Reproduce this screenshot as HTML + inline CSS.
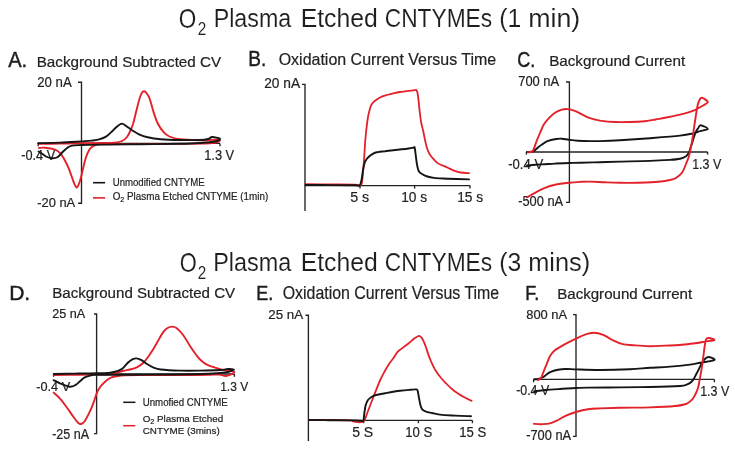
<!DOCTYPE html>
<html><head><meta charset="utf-8"><title>O2 Plasma Etched CNTYMEs</title>
<style>html,body{margin:0;padding:0;background:#fff;width:735px;height:450px;overflow:hidden}
svg{display:block;font-family:"Liberation Sans",sans-serif;will-change:transform;filter:blur(0.35px)}</style></head>
<body>
<svg width="735" height="450" viewBox="0 0 735 450" font-family="Liberation Sans, sans-serif">
<text x="178.7" y="27.7" font-size="26.89" fill="#1e1e1e" textLength="17.5" lengthAdjust="spacingAndGlyphs" stroke="#fff" stroke-width="0.1">O</text>
<text x="197.7" y="34.6" font-size="17.48" fill="#1e1e1e" textLength="8.5" lengthAdjust="spacingAndGlyphs" stroke="#fff" stroke-width="0.1">2</text>
<text x="213.7" y="26.6" font-size="25.15" fill="#1e1e1e" textLength="77.5" lengthAdjust="spacingAndGlyphs" stroke="#fff" stroke-width="0.1">Plasma</text>
<text x="300.7" y="26.6" font-size="25.73" fill="#1e1e1e" textLength="77.0" lengthAdjust="spacingAndGlyphs" stroke="#fff" stroke-width="0.1">Etched</text>
<text x="384.7" y="26.6" font-size="25.73" fill="#1e1e1e" textLength="107.5" lengthAdjust="spacingAndGlyphs" stroke="#fff" stroke-width="0.1">CNTYMEs</text>
<text x="499.2" y="26.6" font-size="25.73" fill="#1e1e1e" textLength="22.0" lengthAdjust="spacingAndGlyphs" stroke="#fff" stroke-width="0.1">(1</text>
<text x="528.2" y="26.6" font-size="25.73" fill="#1e1e1e" textLength="52.0" lengthAdjust="spacingAndGlyphs" stroke="#fff" stroke-width="0.1">min)</text>
<text x="179.7" y="272.1" font-size="26.89" fill="#1e1e1e" textLength="17.0" lengthAdjust="spacingAndGlyphs" stroke="#fff" stroke-width="0.1">O</text>
<text x="197.7" y="279.0" font-size="17.48" fill="#1e1e1e" textLength="8.5" lengthAdjust="spacingAndGlyphs" stroke="#fff" stroke-width="0.1">2</text>
<text x="213.2" y="271.0" font-size="25.00" fill="#1e1e1e" textLength="78.0" lengthAdjust="spacingAndGlyphs" stroke="#fff" stroke-width="0.1">Plasma</text>
<text x="300.7" y="271.0" font-size="25.29" fill="#1e1e1e" textLength="77.0" lengthAdjust="spacingAndGlyphs" stroke="#fff" stroke-width="0.1">Etched</text>
<text x="384.7" y="271.0" font-size="25.29" fill="#1e1e1e" textLength="107.5" lengthAdjust="spacingAndGlyphs" stroke="#fff" stroke-width="0.1">CNTYMEs</text>
<text x="499.2" y="271.0" font-size="25.29" fill="#1e1e1e" textLength="22.0" lengthAdjust="spacingAndGlyphs" stroke="#fff" stroke-width="0.1">(3</text>
<text x="528.2" y="271.0" font-size="25.29" fill="#1e1e1e" textLength="62.0" lengthAdjust="spacingAndGlyphs" stroke="#fff" stroke-width="0.1">mins)</text>
<text x="8.2" y="66.7" font-size="22.67" fill="#1c1c1c" textLength="19.0" lengthAdjust="spacingAndGlyphs" stroke="#1c1c1c" stroke-width="0.45">A.</text>
<text x="248.2" y="66.3" font-size="22.09" fill="#1c1c1c" textLength="18.0" lengthAdjust="spacingAndGlyphs" stroke="#1c1c1c" stroke-width="0.45">B.</text>
<text x="517.2" y="66.7" font-size="21.22" fill="#1c1c1c" textLength="18.0" lengthAdjust="spacingAndGlyphs" stroke="#1c1c1c" stroke-width="0.45">C.</text>
<text x="9.2" y="300.3" font-size="20.64" fill="#1c1c1c" textLength="21.0" lengthAdjust="spacingAndGlyphs" stroke="#1c1c1c" stroke-width="0.45">D.</text>
<text x="256.2" y="300.1" font-size="20.35" fill="#1c1c1c" textLength="17.0" lengthAdjust="spacingAndGlyphs" stroke="#1c1c1c" stroke-width="0.45">E.</text>
<text x="525.2" y="300.1" font-size="20.35" fill="#1c1c1c" textLength="14.0" lengthAdjust="spacingAndGlyphs" stroke="#1c1c1c" stroke-width="0.45">F.</text>
<text x="36.7" y="66.6" font-size="15.41" fill="#222" textLength="184.5" lengthAdjust="spacingAndGlyphs" stroke="#222" stroke-width="0.20">Background Subtracted CV</text>
<text x="278.7" y="65.2" font-size="16.57" fill="#222" textLength="217.5" lengthAdjust="spacingAndGlyphs" stroke="#222" stroke-width="0.20">Oxidation Current Versus Time</text>
<text x="549.2" y="66.1" font-size="14.97" fill="#222" textLength="136.0" lengthAdjust="spacingAndGlyphs" stroke="#222" stroke-width="0.20">Background Current</text>
<text x="52.2" y="298.3" font-size="14.68" fill="#222" textLength="183.0" lengthAdjust="spacingAndGlyphs" stroke="#222" stroke-width="0.20">Background Subtracted CV</text>
<text x="282.7" y="298.5" font-size="17.44" fill="#222" textLength="216.5" lengthAdjust="spacingAndGlyphs" stroke="#222" stroke-width="0.20">Oxidation Current Versus Time</text>
<text x="557.2" y="298.7" font-size="14.39" fill="#222" textLength="135.0" lengthAdjust="spacingAndGlyphs" stroke="#222" stroke-width="0.20">Background Current</text>
<text x="37.2" y="86.7" font-size="14.68" fill="#222" textLength="34.5" lengthAdjust="spacingAndGlyphs" stroke="#222" stroke-width="0.20">20 nA</text>
<text x="37.2" y="207.1" font-size="13.66" fill="#222" textLength="38.0" lengthAdjust="spacingAndGlyphs" stroke="#222" stroke-width="0.20">-20 nA</text>
<text x="21.2" y="159.7" font-size="14.24" fill="#222" textLength="34.0" lengthAdjust="spacingAndGlyphs" stroke="#222" stroke-width="0.20">-0.4 V</text>
<text x="204.2" y="159.7" font-size="14.24" fill="#222" textLength="30.0" lengthAdjust="spacingAndGlyphs" stroke="#222" stroke-width="0.20">1.3 V</text>
<text x="264.2" y="88.1" font-size="14.53" fill="#222" textLength="36.0" lengthAdjust="spacingAndGlyphs" stroke="#222" stroke-width="0.20">20 nA</text>
<text x="350.2" y="202.1" font-size="13.95" fill="#222" textLength="19.0" lengthAdjust="spacingAndGlyphs" stroke="#222" stroke-width="0.20">5 s</text>
<text x="401.2" y="202.1" font-size="13.95" fill="#222" textLength="26.0" lengthAdjust="spacingAndGlyphs" stroke="#222" stroke-width="0.20">10 s</text>
<text x="457.2" y="202.1" font-size="13.95" fill="#222" textLength="26.0" lengthAdjust="spacingAndGlyphs" stroke="#222" stroke-width="0.20">15 s</text>
<text x="518.2" y="85.9" font-size="14.24" fill="#222" textLength="41.0" lengthAdjust="spacingAndGlyphs" stroke="#222" stroke-width="0.20">700 nA</text>
<text x="518.2" y="206.3" font-size="14.24" fill="#222" textLength="45.0" lengthAdjust="spacingAndGlyphs" stroke="#222" stroke-width="0.20">-500 nA</text>
<text x="508.2" y="168.5" font-size="13.95" fill="#222" textLength="35.0" lengthAdjust="spacingAndGlyphs" stroke="#222" stroke-width="0.20">-0.4 V</text>
<text x="692.2" y="168.5" font-size="13.95" fill="#222" textLength="29.0" lengthAdjust="spacingAndGlyphs" stroke="#222" stroke-width="0.20">1.3 V</text>
<text x="52.2" y="317.9" font-size="13.66" fill="#222" textLength="33.0" lengthAdjust="spacingAndGlyphs" stroke="#222" stroke-width="0.20">25 nA</text>
<text x="52.2" y="438.9" font-size="14.24" fill="#222" textLength="37.0" lengthAdjust="spacingAndGlyphs" stroke="#222" stroke-width="0.20">-25 nA</text>
<text x="36.2" y="390.9" font-size="13.66" fill="#222" textLength="34.0" lengthAdjust="spacingAndGlyphs" stroke="#222" stroke-width="0.20">-0.4 V</text>
<text x="220.2" y="390.7" font-size="13.66" fill="#222" textLength="28.0" lengthAdjust="spacingAndGlyphs" stroke="#222" stroke-width="0.20">1.3 V</text>
<text x="268.2" y="319.1" font-size="13.66" fill="#222" textLength="35.0" lengthAdjust="spacingAndGlyphs" stroke="#222" stroke-width="0.20">25 nA</text>
<text x="352.2" y="437.3" font-size="14.24" fill="#222" textLength="21.0" lengthAdjust="spacingAndGlyphs" stroke="#222" stroke-width="0.20">5 S</text>
<text x="405.2" y="437.3" font-size="14.24" fill="#222" textLength="27.0" lengthAdjust="spacingAndGlyphs" stroke="#222" stroke-width="0.20">10 S</text>
<text x="459.2" y="437.3" font-size="14.24" fill="#222" textLength="27.0" lengthAdjust="spacingAndGlyphs" stroke="#222" stroke-width="0.20">15 S</text>
<text x="526.2" y="319.1" font-size="13.66" fill="#222" textLength="41.0" lengthAdjust="spacingAndGlyphs" stroke="#222" stroke-width="0.20">800 nA</text>
<text x="526.2" y="439.9" font-size="14.24" fill="#222" textLength="45.0" lengthAdjust="spacingAndGlyphs" stroke="#222" stroke-width="0.20">-700 nA</text>
<text x="516.2" y="395.1" font-size="13.95" fill="#222" textLength="33.0" lengthAdjust="spacingAndGlyphs" stroke="#222" stroke-width="0.20">-0.4 V</text>
<text x="700.2" y="395.7" font-size="13.95" fill="#222" textLength="29.0" lengthAdjust="spacingAndGlyphs" stroke="#222" stroke-width="0.20">1.3 V</text>
<text x="112.7" y="186.1" font-size="10.90" fill="#222" textLength="92.0" lengthAdjust="spacingAndGlyphs" stroke="#222" stroke-width="0.20">Unmodified CNTYME</text>
<text x="112.7" y="200.0" font-size="10.90" fill="#222" textLength="155.5" lengthAdjust="spacingAndGlyphs" stroke="#222" stroke-width="0.20">O<tspan font-size="7.85" dy="2.2">2</tspan><tspan dy="-2.2"> Plasma Etched CNTYME (1min)</tspan></text>
<text x="142.7" y="405.8" font-size="10.47" fill="#222" textLength="85.0" lengthAdjust="spacingAndGlyphs" stroke="#222" stroke-width="0.20">Unmofied CNTYME</text>
<text x="142.7" y="421.6" font-size="9.74" fill="#222" textLength="80.5" lengthAdjust="spacingAndGlyphs" stroke="#222" stroke-width="0.20">O<tspan font-size="7.01" dy="2.2">2</tspan><tspan dy="-2.2"> Plasma Etched</tspan></text>
<text x="142.7" y="433.9" font-size="9.74" fill="#222" textLength="77.0" lengthAdjust="spacingAndGlyphs" stroke="#222" stroke-width="0.20">CNTYME (3mins)</text>
<polyline points="78.0,82.2 81.5,82.2 81.5,203.2 78.0,203.2" fill="none" stroke="#222" stroke-width="1.35" stroke-linejoin="miter"/>
<line x1="38.2" y1="143.4" x2="220.0" y2="143.4" stroke="#222" stroke-width="1.35"/>
<line x1="38.2" y1="143.4" x2="38.2" y2="146.2" stroke="#222" stroke-width="1.35"/>
<line x1="220.0" y1="143.4" x2="220.0" y2="146.2" stroke="#222" stroke-width="1.35"/>
<path d="M38.2,143.8 C41.8,143.8 52.8,143.7 60.0,143.6 C67.2,143.5 74.8,143.3 81.5,143.2 C88.2,143.1 94.4,143.1 100.0,143.0 C105.6,142.9 111.3,142.9 115.0,142.6 C118.7,142.3 120.0,141.9 122.0,141.0 C124.0,140.1 125.6,138.8 127.0,137.0 C128.4,135.2 129.5,132.8 130.5,130.5 C131.5,128.2 132.1,127.1 133.2,123.5 C134.2,119.9 135.6,113.6 136.8,109.0 C138.0,104.4 139.2,99.0 140.4,96.0 C141.6,93.0 142.7,91.0 144.1,91.2 C145.5,91.4 147.5,94.0 149.1,97.4 C150.7,100.9 152.1,107.6 153.5,111.9 C154.9,116.2 156.1,120.1 157.8,123.5 C159.5,126.9 161.7,130.0 163.6,132.2 C165.5,134.4 166.7,135.3 169.4,136.5 C172.1,137.7 174.9,138.7 180.0,139.3 C185.1,139.9 195.0,140.1 200.0,140.2 C205.0,140.3 207.3,140.1 210.0,140.0 C212.7,139.9 214.3,139.8 216.0,139.8 C217.7,139.9 220.0,139.9 220.0,140.3 C220.0,140.8 219.3,141.9 216.0,142.5 C212.7,143.1 211.0,143.3 200.0,143.6 C189.0,143.8 166.7,143.9 150.0,144.0 C133.3,144.1 108.9,144.2 100.0,144.4 C91.1,144.6 97.9,144.6 96.7,144.9 C95.5,145.2 94.2,145.3 93.0,146.1 C91.8,146.9 90.5,147.8 89.3,149.8 C88.1,151.8 86.8,154.8 85.7,158.3 C84.6,161.8 83.5,166.9 82.6,170.6 C81.7,174.3 81.1,177.5 80.2,180.3 C79.3,183.1 78.0,186.6 77.1,187.3 C76.2,188.0 75.5,186.2 74.7,184.6 C73.9,183.0 73.2,180.7 72.2,177.9 C71.2,175.2 70.0,171.4 68.6,168.1 C67.2,164.8 65.1,160.8 63.7,158.3 C62.3,155.8 61.5,154.4 60.0,153.0 C58.5,151.6 57.5,150.5 55.0,149.6 C52.5,148.7 47.7,148.0 45.0,147.7 C42.3,147.4 40.0,147.9 39.0,148.0" fill="none" stroke="#e3212a" stroke-width="1.90" stroke-linejoin="round" stroke-linecap="round"/>
<path d="M38.2,143.2 C41.8,143.1 52.8,142.9 60.0,142.6 C67.2,142.3 76.2,141.7 81.5,141.4 C86.8,141.1 88.9,141.0 92.0,140.6 C95.1,140.2 97.7,139.9 100.0,139.2 C102.3,138.5 104.2,137.7 106.0,136.6 C107.8,135.5 109.3,133.9 111.0,132.4 C112.7,130.9 114.2,128.9 116.0,127.4 C117.8,125.9 120.0,123.8 121.7,123.6 C123.5,123.4 124.8,125.1 126.5,126.2 C128.2,127.3 129.6,128.7 131.7,130.0 C133.8,131.3 136.3,133.1 139.0,134.3 C141.7,135.5 144.1,136.4 147.7,137.2 C151.3,138.0 155.3,138.7 160.7,139.2 C166.1,139.7 173.4,139.9 180.0,140.0 C186.6,140.1 195.3,140.2 200.0,140.0 C204.7,139.8 206.0,139.5 208.0,139.0 C210.0,138.5 210.5,137.2 212.0,137.0 C213.5,136.8 215.7,137.5 217.0,137.8 C218.3,138.1 220.3,138.4 220.0,139.0 C219.7,139.6 218.3,140.8 215.0,141.5 C211.7,142.2 205.8,142.6 200.0,143.0 C194.2,143.4 190.0,143.6 180.0,143.8 C170.0,144.0 153.3,144.2 140.0,144.3 C126.7,144.4 109.8,144.5 100.0,144.6 C90.2,144.7 86.2,144.8 81.5,145.0 C76.8,145.2 74.3,145.2 72.0,145.6 C69.7,146.0 69.1,146.6 67.5,147.7 C65.9,148.8 64.2,150.4 62.6,152.0 C61.0,153.6 59.6,155.9 57.8,157.0 C56.0,158.1 54.0,158.4 52.0,158.3 C50.0,158.2 47.8,157.4 46.0,156.5 C44.2,155.6 42.2,153.8 41.0,153.0 C39.8,152.2 38.9,151.8 38.5,151.5" fill="none" stroke="#151515" stroke-width="1.90" stroke-linejoin="round" stroke-linecap="round"/>
<line x1="93.0" y1="182.7" x2="105.1" y2="182.7" stroke="#151515" stroke-width="1.60"/>
<line x1="93.0" y1="197.9" x2="105.1" y2="197.9" stroke="#e3212a" stroke-width="1.60"/>
<polyline points="302.0,84.3 305.0,84.3 305.0,211.0" fill="none" stroke="#222" stroke-width="1.35" stroke-linejoin="miter"/>
<line x1="305.0" y1="185.6" x2="470.0" y2="185.6" stroke="#222" stroke-width="1.35"/>
<line x1="360.0" y1="185.6" x2="360.0" y2="188.6" stroke="#222" stroke-width="1.35"/>
<line x1="414.6" y1="185.6" x2="414.6" y2="188.6" stroke="#222" stroke-width="1.35"/>
<line x1="470.0" y1="185.6" x2="470.0" y2="188.6" stroke="#222" stroke-width="1.35"/>
<path d="M305.6,184.2 C309.7,184.2 321.8,184.3 330.0,184.4 C338.2,184.5 349.8,184.5 355.0,184.6 C360.2,184.7 359.8,186.1 361.0,185.0 C362.2,183.9 362.0,182.2 362.5,178.0 C363.0,173.8 363.5,166.3 364.0,160.0 C364.5,153.7 364.9,145.6 365.3,140.0 C365.8,134.4 366.2,130.5 366.7,126.7 C367.1,122.9 367.6,119.5 368.0,117.0 C368.4,114.5 368.8,113.3 369.2,111.7 C369.6,110.1 369.9,108.8 370.3,107.5 C370.7,106.2 370.9,105.3 371.7,104.2 C372.5,103.1 373.6,101.9 375.0,100.8 C376.4,99.7 378.1,98.5 380.0,97.5 C381.9,96.5 384.5,95.7 386.7,95.0 C388.9,94.3 391.1,93.8 393.3,93.3 C395.5,92.8 397.8,92.3 400.0,92.0 C402.2,91.7 404.5,91.5 406.7,91.2 C408.9,90.9 411.7,90.6 413.3,90.4 C414.9,90.2 415.7,89.5 416.4,90.0 C417.1,90.5 417.2,91.5 417.6,93.5 C418.0,95.5 418.4,98.9 418.7,101.8 C419.0,104.7 419.2,107.3 419.6,110.7 C420.0,114.1 420.5,118.5 421.1,122.0 C421.7,125.5 422.6,128.3 423.3,131.5 C424.0,134.7 424.6,138.4 425.3,141.3 C426.0,144.2 426.5,146.8 427.3,149.0 C428.1,151.2 429.1,153.2 430.0,154.7 C430.9,156.2 431.6,156.9 432.7,158.2 C433.8,159.5 435.4,161.3 436.7,162.4 C438.0,163.5 438.9,164.0 440.7,164.8 C442.5,165.7 445.1,166.5 447.3,167.5 C449.5,168.5 451.8,169.8 454.0,170.6 C456.2,171.4 458.2,172.1 460.7,172.5 C463.2,172.9 467.6,173.1 469.0,173.2" fill="none" stroke="#e3212a" stroke-width="1.80" stroke-linejoin="round" stroke-linecap="round"/>
<path d="M305.6,185.0 C309.7,185.0 321.8,185.1 330.0,185.1 C338.2,185.1 350.1,185.1 355.0,185.2 C359.9,185.3 358.4,186.5 359.5,185.6 C360.6,184.7 360.9,182.6 361.5,180.0 C362.1,177.4 362.5,172.8 363.0,170.0 C363.5,167.2 364.0,164.8 364.6,163.0 C365.2,161.2 365.8,160.2 366.7,159.0 C367.6,157.8 368.9,156.7 370.0,155.8 C371.1,154.9 372.2,154.2 373.3,153.6 C374.4,153.0 374.8,152.7 376.7,152.3 C378.6,151.9 382.2,151.5 385.0,151.2 C387.8,150.8 390.5,150.5 393.3,150.2 C396.1,149.9 398.9,149.6 401.7,149.3 C404.5,149.0 408.0,148.5 410.0,148.2 C412.0,147.9 412.8,147.7 413.6,147.7 C414.4,147.7 414.3,145.7 414.8,148.2 C415.3,150.7 416.1,158.9 416.7,162.7 C417.3,166.5 417.8,169.1 418.7,171.0 C419.6,172.9 420.6,173.1 422.0,174.0 C423.4,174.9 425.3,175.8 427.3,176.5 C429.3,177.2 430.7,177.5 434.0,177.9 C437.3,178.3 441.5,178.4 447.3,178.7 C453.1,178.9 465.4,179.3 469.0,179.4" fill="none" stroke="#151515" stroke-width="1.90" stroke-linejoin="round" stroke-linecap="round"/>
<polyline points="566.0,82.0 569.4,82.0 569.4,202.4 566.0,202.4" fill="none" stroke="#222" stroke-width="1.35" stroke-linejoin="miter"/>
<line x1="526.4" y1="152.0" x2="707.6" y2="152.0" stroke="#222" stroke-width="1.35"/>
<line x1="526.4" y1="152.0" x2="526.4" y2="154.6" stroke="#222" stroke-width="1.35"/>
<line x1="707.6" y1="152.0" x2="707.6" y2="154.6" stroke="#222" stroke-width="1.35"/>
<path d="M527.0,152.0 C527.8,151.9 530.8,151.8 532.0,151.6 C533.2,151.4 533.4,151.3 534.4,150.6 C535.4,149.9 536.8,148.5 538.0,147.5 C539.2,146.5 540.0,145.9 541.6,144.8 C543.2,143.8 545.0,142.2 547.4,141.2 C549.8,140.2 553.7,139.4 556.1,139.0 C558.5,138.6 559.6,138.6 561.8,138.7 C564.0,138.8 566.5,139.5 569.1,139.8 C571.8,140.2 574.2,140.6 577.7,140.8 C581.2,141.0 586.3,141.1 590.0,141.1 C593.7,141.1 595.0,141.2 600.0,141.1 C605.0,141.0 611.7,140.8 620.0,140.3 C628.3,139.8 640.0,139.0 650.0,138.2 C660.0,137.4 672.8,136.4 680.0,135.6 C687.2,134.8 689.7,134.1 693.0,133.4 C696.3,132.7 697.5,131.9 700.0,131.2 C702.5,130.4 707.7,129.9 707.8,128.9 C707.9,127.9 702.2,125.4 700.6,125.3 C699.0,125.2 698.8,127.5 698.0,128.5 C697.2,129.6 696.8,129.9 696.0,131.6 C695.2,133.3 694.3,136.0 693.5,138.5 C692.7,141.0 691.8,144.2 691.0,146.5 C690.2,148.8 689.8,150.9 689.0,152.5 C688.2,154.1 687.5,155.1 686.0,156.2 C684.5,157.2 682.7,158.2 680.0,158.8 C677.3,159.4 675.0,159.6 670.0,159.9 C665.0,160.2 658.3,160.6 650.0,160.9 C641.7,161.2 628.3,161.4 620.0,161.6 C611.7,161.8 606.7,162.0 600.0,162.2 C593.3,162.4 585.2,162.7 580.0,162.8 C574.8,162.9 573.2,162.9 569.0,163.0 C564.8,163.1 559.0,163.4 555.0,163.6 C551.0,163.8 548.3,164.0 545.0,164.2 C541.7,164.4 538.0,164.6 535.0,164.8 C532.0,165.0 528.3,165.3 527.0,165.4" fill="none" stroke="#151515" stroke-width="1.90" stroke-linejoin="round" stroke-linecap="round"/>
<path d="M528.0,152.2 C528.7,152.1 531.2,152.4 532.3,151.5 C533.4,150.6 533.8,148.7 534.5,147.0 C535.2,145.3 535.6,143.6 536.6,141.2 C537.6,138.8 539.0,135.3 540.2,132.5 C541.4,129.7 542.3,127.0 543.8,124.6 C545.2,122.2 547.1,120.0 548.9,118.1 C550.7,116.2 552.5,114.4 554.6,113.0 C556.8,111.6 559.6,110.4 561.8,109.7 C564.0,109.0 565.4,108.9 567.6,109.1 C569.8,109.3 572.1,109.9 574.8,110.9 C577.4,111.9 581.0,114.0 583.5,115.2 C586.0,116.4 587.2,117.2 590.0,118.1 C592.8,119.0 595.8,119.9 600.0,120.6 C604.2,121.2 610.0,121.8 615.0,122.0 C620.0,122.2 625.0,122.1 630.0,122.0 C635.0,121.9 640.7,121.6 645.0,121.2 C649.3,120.8 652.3,120.1 655.6,119.5 C658.9,118.9 662.0,118.4 665.0,117.8 C668.0,117.2 670.9,116.6 673.4,116.1 C675.9,115.6 677.6,115.2 680.0,114.6 C682.4,114.0 685.1,113.3 687.6,112.6 C690.1,111.9 692.6,111.1 694.7,110.2 C696.8,109.3 698.3,108.2 700.0,107.2 C701.7,106.2 703.7,105.3 705.0,104.4 C706.3,103.5 708.3,102.8 707.8,101.7 C707.2,100.6 703.2,97.8 701.7,97.8 C700.2,97.8 699.4,100.2 698.6,102.0 C697.8,103.8 697.5,105.8 697.0,108.5 C696.5,111.2 696.0,114.8 695.5,118.0 C695.0,121.2 694.5,124.7 694.0,128.0 C693.5,131.3 693.1,134.8 692.6,138.0 C692.1,141.2 691.6,144.0 691.0,147.0 C690.4,150.0 689.8,153.2 689.0,156.0 C688.2,158.8 687.1,161.3 686.0,164.0 C684.9,166.7 683.6,170.2 682.3,172.3 C681.0,174.4 679.5,175.4 678.0,176.6 C676.5,177.8 675.6,178.5 673.4,179.2 C671.2,179.9 668.0,180.5 665.0,181.0 C662.0,181.5 660.1,181.7 655.6,182.0 C651.1,182.3 643.7,182.7 637.8,182.8 C631.9,182.9 625.5,182.9 620.0,182.8 C614.5,182.7 610.0,182.5 605.0,182.3 C600.0,182.1 594.2,181.7 590.0,181.6 C585.8,181.5 583.5,181.7 580.0,181.9 C576.5,182.1 573.2,182.3 569.0,182.8 C564.8,183.3 559.0,184.0 555.0,184.8 C551.0,185.7 548.3,186.6 545.0,187.9 C541.7,189.2 538.0,191.2 535.0,192.8 C532.0,194.4 528.3,196.6 527.0,197.3" fill="none" stroke="#e3212a" stroke-width="1.90" stroke-linejoin="round" stroke-linecap="round"/>
<polyline points="94.0,314.0 96.6,314.0 96.6,433.6 94.0,433.6" fill="none" stroke="#222" stroke-width="1.35" stroke-linejoin="miter"/>
<line x1="53.6" y1="374.0" x2="234.4" y2="374.0" stroke="#222" stroke-width="1.35"/>
<line x1="53.6" y1="374.0" x2="53.6" y2="376.8" stroke="#222" stroke-width="1.35"/>
<line x1="234.4" y1="374.0" x2="234.4" y2="376.8" stroke="#222" stroke-width="1.35"/>
<path d="M54.0,375.0 C58.3,375.0 72.8,374.9 80.0,374.8 C87.2,374.7 92.0,374.7 97.0,374.6 C102.0,374.5 105.7,374.8 110.0,374.2 C114.3,373.6 119.3,371.8 122.6,371.0 C125.9,370.2 127.5,370.1 130.0,369.5 C132.4,368.9 135.1,368.2 137.3,367.1 C139.5,366.0 141.6,364.5 143.4,362.8 C145.2,361.1 146.7,358.9 148.3,356.7 C149.9,354.4 151.6,351.9 153.2,349.3 C154.8,346.7 156.6,343.5 158.1,340.8 C159.6,338.1 161.0,335.4 162.4,333.4 C163.8,331.4 165.2,329.7 166.7,328.6 C168.2,327.5 170.0,326.7 171.6,326.6 C173.2,326.5 174.6,326.5 176.5,327.9 C178.4,329.3 181.0,332.1 183.3,335.2 C185.6,338.3 188.1,343.1 190.5,346.7 C192.9,350.3 195.5,354.1 197.7,356.8 C199.9,359.5 201.6,361.1 203.5,362.6 C205.4,364.1 207.4,364.8 209.3,365.6 C211.2,366.4 213.2,367.0 215.0,367.6 C216.8,368.2 218.2,368.7 220.0,369.2 C221.8,369.7 224.3,370.1 226.0,370.4 C227.7,370.7 228.6,370.8 230.0,371.0 C231.4,371.2 234.3,371.2 234.4,371.8 C234.5,372.4 232.0,373.9 230.5,374.6 C229.0,375.3 227.5,376.0 225.6,376.0 C223.7,376.0 221.6,374.8 219.0,374.6 C216.4,374.4 213.2,374.7 210.0,374.8 C206.8,374.9 210.0,374.9 200.0,375.0 C190.0,375.1 162.5,375.1 150.0,375.1 C137.5,375.2 130.6,375.1 125.0,375.3 C119.5,375.5 119.2,375.8 116.7,376.2 C114.2,376.6 112.1,376.9 110.0,378.0 C107.9,379.1 105.7,381.1 104.0,382.7 C102.3,384.2 101.2,385.5 100.0,387.3 C98.8,389.1 97.8,390.6 96.7,393.3 C95.6,396.0 94.5,400.1 93.3,403.3 C92.1,406.5 90.7,409.8 89.3,412.7 C87.9,415.6 86.3,418.8 85.0,420.7 C83.7,422.6 82.5,423.7 81.3,424.0 C80.1,424.3 79.3,423.9 78.0,422.7 C76.7,421.5 75.2,419.3 73.3,416.7 C71.4,414.1 68.9,410.3 66.7,407.3 C64.5,404.3 62.2,401.1 60.0,398.7 C57.8,396.2 54.7,393.6 53.6,392.6" fill="none" stroke="#e3212a" stroke-width="1.90" stroke-linejoin="round" stroke-linecap="round"/>
<path d="M53.8,374.0 C57.3,373.9 67.8,373.7 75.0,373.6 C82.2,373.5 91.2,373.4 97.0,373.2 C102.8,373.0 106.5,373.0 110.0,372.6 C113.5,372.2 115.9,371.5 118.0,370.8 C120.1,370.1 120.9,369.9 122.6,368.5 C124.3,367.1 126.5,364.0 128.1,362.5 C129.7,361.0 131.0,360.1 132.4,359.4 C133.8,358.7 134.9,358.3 136.4,358.4 C137.9,358.5 139.8,359.3 141.5,360.2 C143.2,361.1 144.7,362.6 146.6,363.8 C148.5,365.0 150.8,366.4 153.1,367.4 C155.4,368.3 156.2,369.0 160.7,369.5 C165.2,370.0 173.4,370.4 180.0,370.6 C186.6,370.8 193.3,370.7 200.0,370.6 C206.7,370.5 215.3,370.3 220.0,370.0 C224.7,369.7 225.7,369.1 228.0,369.0 C230.3,368.9 234.0,369.1 234.0,369.6 C234.0,370.1 230.3,371.4 228.0,372.0 C225.7,372.6 224.7,372.7 220.0,373.0 C215.3,373.3 211.7,373.7 200.0,374.0 C188.3,374.3 166.7,374.5 150.0,374.6 C133.3,374.7 108.8,374.8 100.0,374.8 C91.2,374.8 98.7,374.5 97.0,374.6 C95.3,374.7 92.0,375.2 90.0,375.6 C88.0,376.1 86.4,376.4 84.7,377.3 C83.0,378.2 81.5,380.1 80.0,381.3 C78.5,382.5 77.7,383.8 76.0,384.7 C74.3,385.6 72.7,386.9 70.0,386.7 C67.3,386.5 62.7,384.4 60.0,383.3 C57.3,382.2 54.7,380.7 53.6,380.2" fill="none" stroke="#151515" stroke-width="1.90" stroke-linejoin="round" stroke-linecap="round"/>
<line x1="123.2" y1="402.3" x2="135.4" y2="402.3" stroke="#151515" stroke-width="1.50"/>
<line x1="123.2" y1="425.7" x2="135.4" y2="425.7" stroke="#e3212a" stroke-width="1.50"/>
<polyline points="305.5,315.2 308.4,315.2 308.4,441.0" fill="none" stroke="#222" stroke-width="1.35" stroke-linejoin="miter"/>
<line x1="308.4" y1="420.4" x2="472.4" y2="420.4" stroke="#222" stroke-width="1.35"/>
<line x1="363.6" y1="420.4" x2="363.6" y2="423.2" stroke="#222" stroke-width="1.35"/>
<line x1="418.4" y1="420.4" x2="418.4" y2="423.2" stroke="#222" stroke-width="1.35"/>
<line x1="472.4" y1="420.4" x2="472.4" y2="423.2" stroke="#222" stroke-width="1.35"/>
<path d="M309.2,419.8 C312.7,419.8 323.2,419.9 330.0,420.0 C336.8,420.1 346.2,420.1 350.0,420.3 C353.8,420.5 351.7,421.1 353.0,421.4 C354.3,421.7 356.5,422.1 358.0,422.2 C359.5,422.3 360.9,422.3 362.0,422.0 C363.1,421.7 363.4,422.4 364.4,420.6 C365.4,418.8 366.7,414.4 368.0,411.0 C369.3,407.6 370.7,403.9 372.0,400.5 C373.3,397.1 374.7,393.7 376.0,390.4 C377.3,387.1 378.7,383.3 380.0,380.5 C381.3,377.7 382.5,375.4 383.6,373.4 C384.7,371.3 385.5,369.8 386.4,368.2 C387.3,366.6 388.1,365.4 389.0,364.0 C389.9,362.6 391.1,361.2 392.0,360.0 C392.9,358.8 393.4,358.2 394.3,356.8 C395.2,355.4 396.3,353.2 397.6,351.8 C398.9,350.4 400.1,349.8 402.0,348.4 C403.9,347.0 406.7,344.9 408.7,343.3 C410.7,341.7 412.5,339.8 414.2,338.6 C415.9,337.4 417.7,336.4 418.6,336.0 C419.5,335.6 419.3,335.9 419.8,336.2 C420.3,336.5 420.9,336.9 421.5,337.6 C422.1,338.3 422.6,339.1 423.3,340.6 C424.0,342.1 425.0,344.4 425.8,346.7 C426.6,349.0 427.4,351.9 428.3,354.4 C429.2,356.9 429.9,358.8 431.1,361.5 C432.3,364.2 433.9,367.9 435.6,370.6 C437.3,373.4 439.2,375.8 441.1,378.0 C443.0,380.2 444.9,382.1 446.7,384.0 C448.5,385.9 450.3,387.6 452.2,389.2 C454.1,390.8 455.9,392.0 457.8,393.3 C459.7,394.6 461.0,395.5 463.3,396.8 C465.6,398.1 470.2,400.2 471.6,400.9" fill="none" stroke="#e3212a" stroke-width="1.80" stroke-linejoin="round" stroke-linecap="round"/>
<path d="M309.2,420.0 C312.7,420.0 322.4,420.1 330.0,420.2 C337.6,420.3 349.8,420.3 355.0,420.4 C360.2,420.5 359.6,420.8 361.0,420.8 C362.4,420.8 362.8,421.9 363.4,420.4 C364.0,418.9 364.1,414.5 364.5,412.0 C364.9,409.5 365.1,407.6 365.6,405.6 C366.2,403.6 366.9,401.6 367.8,400.2 C368.7,398.8 369.7,398.1 371.1,397.2 C372.5,396.3 373.7,395.6 376.0,395.0 C378.3,394.4 381.0,394.0 385.0,393.3 C389.0,392.6 395.8,391.4 400.0,390.8 C404.2,390.2 407.3,390.0 410.0,389.8 C412.7,389.6 414.7,389.3 416.0,389.4 C417.3,389.5 417.1,389.1 417.6,390.5 C418.1,391.9 418.5,395.6 419.0,398.0 C419.5,400.4 419.9,403.1 420.4,405.0 C420.9,406.9 421.3,408.3 422.2,409.4 C423.1,410.5 424.4,411.0 426.0,411.6 C427.6,412.2 429.7,412.5 432.0,413.0 C434.3,413.5 436.2,414.2 440.0,414.6 C443.8,415.0 449.8,415.3 455.0,415.6 C460.2,415.9 468.3,416.1 471.0,416.2" fill="none" stroke="#151515" stroke-width="1.90" stroke-linejoin="round" stroke-linecap="round"/>
<polyline points="573.0,314.6 576.0,314.6 576.0,436.4 573.0,436.4" fill="none" stroke="#222" stroke-width="1.35" stroke-linejoin="miter"/>
<line x1="533.6" y1="379.4" x2="714.4" y2="379.4" stroke="#222" stroke-width="1.35"/>
<line x1="533.6" y1="379.4" x2="533.6" y2="382.2" stroke="#222" stroke-width="1.35"/>
<line x1="714.4" y1="379.4" x2="714.4" y2="382.2" stroke="#222" stroke-width="1.35"/>
<path d="M534.0,379.4 C534.7,379.3 536.6,379.3 538.0,379.0 C539.4,378.7 541.1,378.2 542.4,377.5 C543.7,376.8 544.7,375.9 546.0,375.0 C547.3,374.1 548.2,373.0 550.2,372.1 C552.2,371.2 555.4,370.3 558.0,369.8 C560.6,369.3 562.7,369.1 565.8,369.0 C568.9,368.9 571.0,369.2 576.7,369.4 C582.4,369.6 591.1,370.0 600.0,370.0 C608.9,370.0 621.7,369.6 630.0,369.2 C638.3,368.8 643.3,368.2 650.0,367.8 C656.7,367.4 663.3,367.1 670.0,366.6 C676.7,366.1 685.0,365.2 690.0,364.6 C695.0,364.0 695.9,363.6 700.0,362.8 C704.1,362.0 713.0,361.0 714.4,360.0 C715.8,359.0 710.0,357.0 708.3,357.0 C706.5,357.0 705.0,358.9 703.9,360.0 C702.8,361.1 702.5,361.8 701.7,363.3 C700.9,364.8 700.0,366.9 699.0,368.9 C698.0,370.8 696.7,373.2 695.8,375.0 C694.9,376.8 694.4,378.1 693.5,379.4 C692.6,380.7 691.8,381.7 690.5,382.6 C689.2,383.5 687.8,384.2 686.0,384.8 C684.2,385.4 686.0,385.6 680.0,386.0 C674.0,386.4 660.0,386.8 650.0,387.0 C640.0,387.2 630.3,387.3 620.0,387.4 C609.7,387.5 595.3,387.5 588.0,387.6 C580.7,387.7 580.7,387.8 576.0,388.0 C571.3,388.2 565.2,388.7 560.0,389.0 C554.8,389.3 549.3,389.6 545.0,390.0 C540.7,390.4 535.8,391.2 534.0,391.4" fill="none" stroke="#151515" stroke-width="1.90" stroke-linejoin="round" stroke-linecap="round"/>
<path d="M538.0,380.0 C538.5,379.7 540.0,379.5 540.9,378.3 C541.8,377.1 542.4,374.5 543.2,372.6 C544.0,370.7 544.4,369.5 545.6,366.7 C546.8,363.9 548.7,358.5 550.2,355.8 C551.8,353.1 553.1,351.9 554.9,350.3 C556.7,348.7 558.8,347.8 561.1,346.4 C563.4,345.0 566.3,343.5 568.9,342.2 C571.5,340.9 574.1,339.6 576.7,338.4 C579.3,337.2 581.5,335.7 584.4,334.8 C587.2,333.9 590.7,332.8 593.8,332.8 C596.9,332.8 600.0,333.6 603.1,334.8 C606.2,336.0 609.3,338.5 612.4,340.0 C615.5,341.5 618.0,342.9 621.8,343.8 C625.6,344.7 630.3,345.0 635.0,345.4 C639.7,345.8 645.0,346.2 650.0,346.2 C655.0,346.2 660.0,345.8 665.0,345.6 C670.0,345.4 675.0,345.4 680.0,345.0 C685.0,344.6 691.5,343.6 695.0,343.2 C698.5,342.8 699.3,342.6 701.0,342.3 C702.7,342.0 702.8,342.0 705.0,341.6 C707.2,341.2 713.8,340.6 714.4,340.0 C715.0,339.4 710.3,338.1 708.9,338.0 C707.5,337.9 706.7,337.9 706.0,339.4 C705.3,340.8 705.1,343.6 704.6,346.7 C704.1,349.8 703.7,354.1 703.2,357.8 C702.7,361.5 702.2,365.2 701.6,368.9 C701.0,372.6 700.2,376.8 699.6,380.0 C699.0,383.2 698.8,385.5 698.0,388.0 C697.2,390.5 696.1,393.0 695.0,395.0 C693.9,397.0 693.1,398.7 691.6,400.2 C690.1,401.7 688.8,403.0 686.0,404.0 C683.2,405.0 681.0,405.4 675.0,406.0 C669.0,406.6 659.2,407.1 650.0,407.4 C640.8,407.7 628.3,407.6 620.0,407.8 C611.7,408.0 605.3,408.2 600.0,408.4 C594.7,408.6 592.0,408.6 588.0,409.2 C584.0,409.8 579.7,410.9 576.0,412.0 C572.3,413.1 569.0,414.3 566.0,415.6 C563.0,416.9 560.7,418.7 558.0,420.0 C555.3,421.3 552.7,422.7 550.0,423.4 C547.3,424.1 544.7,424.1 542.0,424.2 C539.3,424.3 535.3,423.9 534.0,423.8" fill="none" stroke="#e3212a" stroke-width="1.90" stroke-linejoin="round" stroke-linecap="round"/>
</svg>
</body></html>
